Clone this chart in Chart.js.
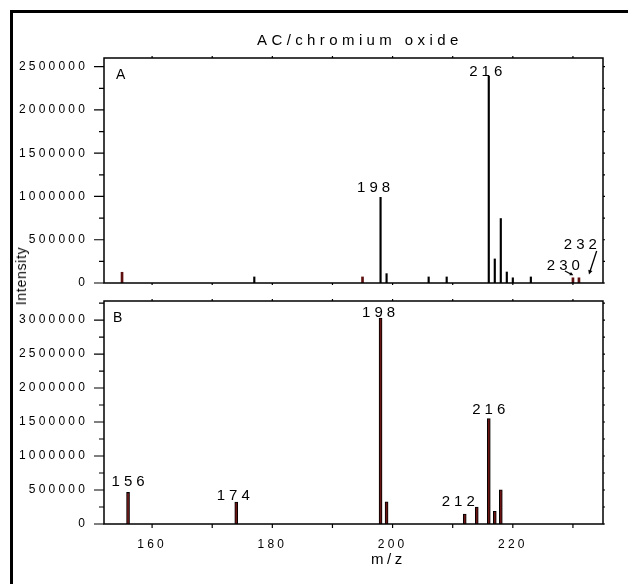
<!DOCTYPE html>
<html>
<head>
<meta charset="utf-8">
<title>AC/chromium oxide</title>
<script src="https://cdn.jsdelivr.net/npm/chart.js@4.4.0/dist/chart.umd.min.js"></script>
<style>
  body { margin: 0; background: #fff; font-family: "Liberation Sans", Arial, sans-serif; }
  #wrap { position: relative; width: 628px; height: 584px; overflow: hidden; }
  #frame { position: absolute; left: 10px; top: 10px; width: 640px; height: 600px;
           border-top: 3px solid #000; border-left: 3px solid #000; }
  canvas { position: absolute; left: 0; }
  #topChart { top: 0; }
  #bottomChart { top: 290px; }
  .txt { position: absolute; white-space: nowrap; color: #000; line-height: normal; }
  #title { left: 257px; top: 31px; font-size: 15px; letter-spacing: 4.4px; }
  #ylab { left: 21px; top: 276px; font-size: 14px; letter-spacing: 0.7px;
          transform: translate(-50%, -50%) rotate(-90deg); }
  #xlab { left: 371px; top: 550px; font-size: 15px; letter-spacing: 3.5px; }
</style>
</head>
<body>
<div id="wrap">
  <div id="frame"></div>
  <canvas id="topChart" width="628" height="290"></canvas>
  <canvas id="bottomChart" width="628" height="294"></canvas>
  <div id="title" class="txt">AC/chromium oxide</div>
  <div id="ylab" class="txt">Intensity</div>
  <div id="xlab" class="txt">m/z</div>
</div>
<script>
// shared m/z axis
const mzMin = 152;
const mzMax = 235;
const mzTicks = [160, 180, 200, 220];
const mzMinorTicks = [170, 190, 210, 230];

// panel A: black peaks
const mzA = [177, 198, 199, 206, 209, 216, 217, 218, 219, 220, 223];
const intensityA = [70000, 990000, 108000, 70000, 70000, 2390000, 278000, 745000, 127000, 60000, 70000];
// panel A: dark red peaks
const mzA2 = [155, 195, 230, 231];
const intensityA2 = [124000, 70000, 60000, 60000];
const yTicksA = [0, 500000, 1000000, 1500000, 2000000, 2500000];
const yMaxA = 2600000;
const peakLabelsA = [198, 216, 230, 232];

// panel B
const mzB = [156, 174, 198, 199, 212, 214, 216, 217, 218];
const intensityB = [464000, 323000, 3030000, 327000, 147000, 250000, 1550000, 185000, 504000];
const yTicksB = [0, 500000, 1000000, 1500000, 2000000, 2500000, 3000000];
const yMaxB = 3280000;
const peakLabelsB = [156, 174, 198, 212, 216];

const FONT = '"Liberation Sans", Arial, sans-serif';

// label placement relative to the top of its peak (pixels)
const labelStyleA = {
  198: { dx: -7, gap: 5 },
  216: { dx: -3, gap: 0 },
  230: { dx: -9.6, gap: 8.2, arrow: [-8, -6.8, 0.4, -2.5], head: 4 },
  232: { dx: -4.6, gap: 34.4, arrow: [11.7, -32, 4, -8.4], head: 5 }
};
const labelStyleB = {
  156: { dx: 0, gap: 6 },
  174: { dx: -3, gap: 2 },
  198: { dx: -2, gap: 0.7 },
  212: { dx: -6.5, gap: 8 },
  216: { dx: 0, gap: 4.7 }
};

function points(xs, ys) {
  return xs.map((m, i) => ({ x: m, y: ys[i] }));
}

// spaced-out lettering for the tick labels
const spacing = {
  id: 'spacing',
  beforeDraw(chart) {
    chart.ctx.letterSpacing = '3.2px';
  }
};

// plot frame with major/minor ticks on all sides
const frameTicks = {
  id: 'frameTicks',
  afterDraw(chart, args, opts) {
    const { ctx, chartArea: a, scales: { x, y } } = chart;
    ctx.save();
    ctx.strokeStyle = '#000';
    ctx.lineWidth = 1.5;
    ctx.strokeRect(a.left, a.top, a.right - a.left, a.bottom - a.top);
    ctx.lineWidth = 1.2;
    ctx.beginPath();
    const step = opts.yTicks[1] - opts.yTicks[0];
    for (let v = 0; v <= y.max; v += step / 2) {
      const py = y.getPixelForValue(v);
      const len = v % step === 0 ? 10 : 5;
      ctx.moveTo(a.left - len, py);
      ctx.lineTo(a.left, py);
      ctx.moveTo(a.right, py);
      ctx.lineTo(a.right + 2, py);
    }
    mzTicks.concat(mzMinorTicks).forEach(v => {
      const px = x.getPixelForValue(v);
      ctx.moveTo(px, a.bottom);
      ctx.lineTo(px, a.bottom + opts.xTickLen);
      ctx.moveTo(px, a.top);
      ctx.lineTo(px, a.top - 2);
    });
    ctx.stroke();
    ctx.restore();
  }
};

// m/z labels above peaks, pointer arrows and the panel letter
const peakLabels = {
  id: 'peakLabels',
  afterDatasetsDraw(chart, args, opts) {
    const { ctx, chartArea: a, scales: { x, y } } = chart;
    const all = chart.data.datasets.flatMap(d => d.data);
    ctx.save();
    ctx.fillStyle = '#000';
    ctx.strokeStyle = '#000';
    ctx.font = '15px ' + FONT;
    ctx.textBaseline = 'alphabetic';
    ctx.textAlign = 'left';
    opts.peaks.forEach(mz => {
      const st = opts.style[mz];
      const hit = all.find(p => p.x === mz);
      const px = x.getPixelForValue(mz);
      const py = y.getPixelForValue(hit ? hit.y : 0);
      const text = String(mz);
      ctx.letterSpacing = '0px';
      const w = ctx.measureText(text).width + 4 * (text.length - 1);
      ctx.letterSpacing = '4px';
      ctx.fillText(text, px + st.dx - w / 2, py - st.gap);
      if (st.arrow) {
        const [x0, y0, x1, y1] = st.arrow;
        const sx = px + x0, sy = py + y0, ex = px + x1, ey = py + y1;
        const ang = Math.atan2(ey - sy, ex - sx);
        ctx.lineWidth = 1.3;
        ctx.beginPath();
        ctx.moveTo(sx, sy);
        ctx.lineTo(ex - Math.cos(ang) * st.head * 0.6, ey - Math.sin(ang) * st.head * 0.6);
        ctx.stroke();
        ctx.beginPath();
        ctx.moveTo(ex, ey);
        ctx.lineTo(ex - st.head * Math.cos(ang - 0.45), ey - st.head * Math.sin(ang - 0.45));
        ctx.lineTo(ex - st.head * Math.cos(ang + 0.45), ey - st.head * Math.sin(ang + 0.45));
        ctx.closePath();
        ctx.fill();
      }
    });
    ctx.letterSpacing = '0px';
    ctx.font = '14px ' + FONT;
    ctx.fillText(opts.panel, a.left + opts.panelDx, a.top + 21);
    ctx.restore();
  }
};

function yScale(ticks, max) {
  return {
    min: 0,
    max: max,
    grid: { display: false },
    border: { display: false },
    ticks: { color: '#000', font: { family: FONT, size: 12 }, padding: 8, callback: v => String(v) },
    afterBuildTicks: s => { s.ticks = ticks.map(v => ({ value: v })); },
    // fixed axis width; labels may overhang the plot edges
    afterFit: s => { s.width = 104; s.paddingTop = 0; s.paddingBottom = 0; }
  };
}

new Chart(document.getElementById('topChart'), {
  type: 'bar',
  data: {
    datasets: [
      { data: points(mzA, intensityA), backgroundColor: '#000', barThickness: 1.5, grouped: false },
      { data: points(mzA2, intensityA2), backgroundColor: '#5e1010', barThickness: 2, grouped: false }
    ]
  },
  plugins: [spacing, frameTicks, peakLabels],
  options: {
    responsive: false,
    animation: false,
    layout: { padding: { top: 58, right: 25, left: 0, bottom: 0 } },
    plugins: {
      legend: { display: false },
      tooltip: { enabled: false },
      frameTicks: { yTicks: yTicksA, xTickLen: 2 },
      peakLabels: { peaks: peakLabelsA, style: labelStyleA, panel: 'A', panelDx: 12 }
    },
    scales: {
      x: {
        type: 'linear', min: mzMin, max: mzMax, offset: false,
        grid: { display: false }, border: { display: false },
        ticks: { display: false },
        afterFit: s => { s.height = 7; s.paddingLeft = 0; s.paddingRight = 0; }
      },
      y: yScale(yTicksA, yMaxA)
    }
  }
});

new Chart(document.getElementById('bottomChart'), {
  type: 'bar',
  data: {
    datasets: [
      { data: points(mzB, intensityB), backgroundColor: '#6a1414', borderColor: '#000',
        borderWidth: 1, barThickness: 3, grouped: false }
    ]
  },
  plugins: [spacing, frameTicks, peakLabels],
  options: {
    responsive: false,
    animation: false,
    layout: { padding: { top: 11, right: 25, left: 0, bottom: 0 } },
    plugins: {
      legend: { display: false },
      tooltip: { enabled: false },
      frameTicks: { yTicks: yTicksB, xTickLen: 4 },
      peakLabels: { peaks: peakLabelsB, style: labelStyleB, panel: 'B', panelDx: 9 }
    },
    scales: {
      x: {
        type: 'linear', min: mzMin, max: mzMax, offset: false,
        grid: { display: false }, border: { display: false },
        ticks: { color: '#000', font: { family: FONT, size: 12 }, padding: 5, maxRotation: 0 },
        afterBuildTicks: s => { s.ticks = mzTicks.map(v => ({ value: v })); },
        afterFit: s => { s.height = 60; s.paddingLeft = 0; s.paddingRight = 0; }
      },
      y: yScale(yTicksB, yMaxB)
    }
  }
});
</script>
</body>
</html>
